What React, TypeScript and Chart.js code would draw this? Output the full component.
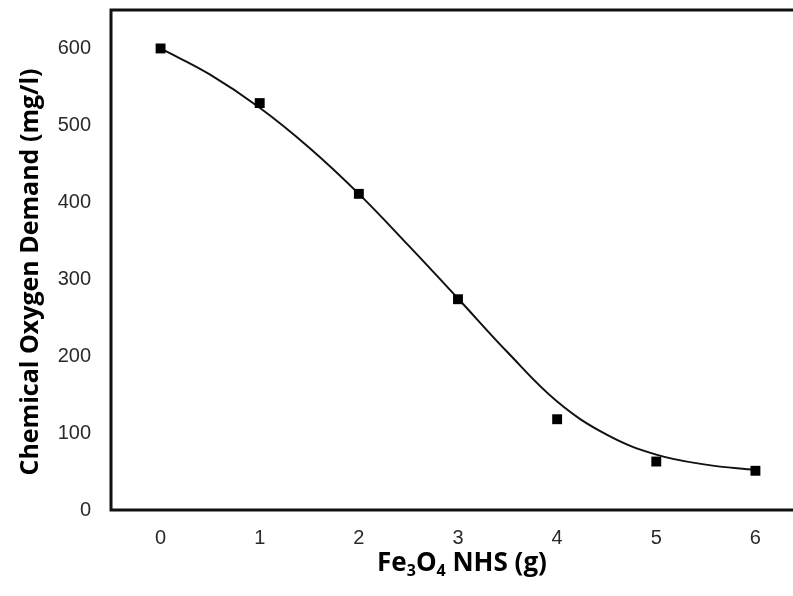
import React, { useEffect, useRef } from "react";
import { Chart, registerables } from "chart.js";

Chart.register(...registerables);

// ---- data ----
const xTickValues = [0, 1, 2, 3, 4, 5, 6];
const yTickValues = [0, 100, 200, 300, 400, 500, 600];
const doseG = [0, 1, 2, 3, 4, 5, 6];
const codMgL = [600, 529, 411, 274, 118, 63, 51];
const fitDoseG = [0, 0.5, 1, 1.5, 2, 2.5, 3, 3.5, 4, 4.5, 5, 5.5, 6];
const fitCodMgL = [600, 566, 523, 471, 411, 344, 275, 205, 141, 98, 72, 59, 52];
const yTitle = "Chemical Oxygen Demand (mg/l)";
const xTitleParts = [
  { text: "Fe", sub: false },
  { text: "3", sub: true },
  { text: "O", sub: false },
  { text: "4", sub: true },
  { text: " NHS (g)", sub: false },
];

const CANVAS_W = 830;
const CANVAS_H = 596;

const decorPlugin = {
  id: "decor",
  afterDatasetsDraw(chart: any) {
    const { ctx, chartArea } = chart;
    ctx.save();
    ctx.strokeStyle = "#111";
    ctx.lineWidth = 3;
    ctx.strokeRect(
      chartArea.left,
      chartArea.top,
      chartArea.right - chartArea.left,
      chartArea.bottom - chartArea.top
    );
    ctx.restore();
  },
  afterDraw(chart: any) {
    const { ctx } = chart;
    ctx.save();
    ctx.fillStyle = "#000";
    // y title
    ctx.translate(31, 272);
    ctx.rotate(-Math.PI / 2);
    ctx.font = "bold 25px 'Open Sans'";
    ctx.textAlign = "center";
    ctx.textBaseline = "middle";
    ctx.fillText(yTitle, 0, 0);
    ctx.restore();

    // x title with subscripts
    ctx.save();
    ctx.fillStyle = "#000";
    ctx.textBaseline = "alphabetic";
    ctx.textAlign = "left";
    const mainFont = "bold 26px 'Open Sans'";
    const subFont = "bold 16px 'Open Sans'";
    let total = 0;
    const widths = xTitleParts.map((p) => {
      ctx.font = p.sub ? subFont : mainFont;
      const w = ctx.measureText(p.text).width;
      total += w;
      return w;
    });
    let x = 462 - total / 2;
    const baseline = 571;
    xTitleParts.forEach((p, i) => {
      ctx.font = p.sub ? subFont : mainFont;
      ctx.fillText(p.text, x, p.sub ? baseline + 5 : baseline);
      x += widths[i];
    });
    ctx.restore();
  },
};

export default function App() {
  const canvasRef = useRef<HTMLCanvasElement | null>(null);

  useEffect(() => {
    if (!canvasRef.current) return;
    const chart = new Chart(canvasRef.current, {
      type: "scatter",
      data: {
        datasets: [
          {
            label: "Measured",
            data: doseG.map((x, i) => ({ x, y: codMgL[i] })),
            pointStyle: "rect",
            pointRadius: 7,
            pointBackgroundColor: "#000",
            pointBorderColor: "#000",
            pointBorderWidth: 0,
            showLine: false,
          },
          {
            label: "Fit",
            data: fitDoseG.map((x, i) => ({ x, y: fitCodMgL[i] })),
            showLine: true,
            borderColor: "#111",
            borderWidth: 2,
            pointRadius: 0,
            tension: 0.4,
            fill: false,
          },
        ],
      },
      options: {
        animation: false,
        responsive: false,
        maintainAspectRatio: false,
        devicePixelRatio: 1,
        layout: { padding: { left: 0, top: 10, right: CANVAS_W - 805, bottom: 0 } },
        plugins: {
          legend: { display: false },
          tooltip: { enabled: false },
          title: { display: false },
        },
        scales: {
          x: {
            type: "linear",
            min: -0.5,
            max: 6.5,
            grid: { display: false, drawTicks: false },
            border: { display: false },
            ticks: {
              padding: 16,
              color: "#2a2a2a",
              font: { family: "Liberation Sans", size: 20 },
              autoSkip: false,
              maxRotation: 0,
            },
            afterBuildTicks: (scale: any) => {
              scale.ticks = xTickValues.map((v) => ({ value: v }));
            },
            afterFit: (scale: any) => {
              scale.height = 86;
              scale.paddingLeft = 0;
              scale.paddingRight = 0;
            },
          },
          y: {
            type: "linear",
            min: 0,
            max: 650,
            grid: { display: false, drawTicks: false },
            border: { display: false },
            ticks: {
              padding: 20,
              color: "#2a2a2a",
              font: { family: "Liberation Sans", size: 20 },
              autoSkip: false,
            },
            afterBuildTicks: (scale: any) => {
              scale.ticks = yTickValues.map((v) => ({ value: v }));
            },
            afterFit: (scale: any) => {
              scale.width = 111;
              scale.paddingTop = 0;
              scale.paddingBottom = 0;
            },
          },
        },
      },
      plugins: [decorPlugin],
    });
    return () => chart.destroy();
  }, []);

  return (
    <div
      style={{
        position: "fixed",
        left: 0,
        top: 0,
        width: 793,
        height: 596,
        overflow: "hidden",
        background: "#fff",
      }}
    >
      <canvas
        ref={canvasRef}
        width={CANVAS_W}
        height={CANVAS_H}
        style={{ display: "block", width: CANVAS_W, height: CANVAS_H }}
      />
    </div>
  );
}
